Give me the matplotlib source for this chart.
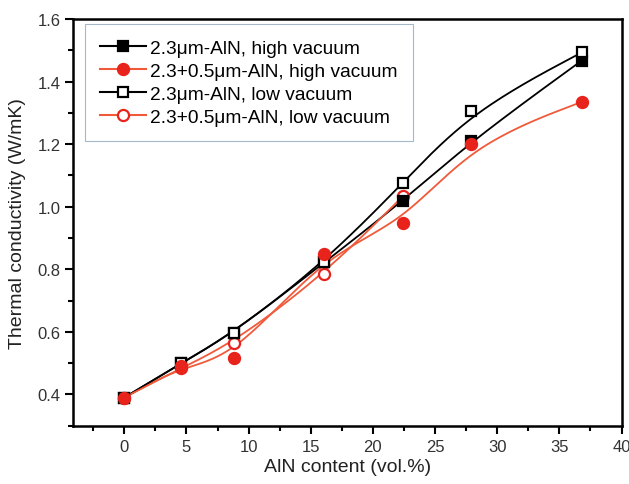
import numpy as np
import matplotlib
matplotlib.use('Agg')
import matplotlib.pyplot as plt
from matplotlib.lines import Line2D
from matplotlib.ticker import MultipleLocator

plt.rcParams['font.family'] = ['Liberation Sans', 'DejaVu Sans']

# data
x = [0, 4.6, 8.8, 16.1, 22.45, 27.9, 36.8]
k_23_high = [0.39, 0.50, 0.597, 0.822, 1.019, 1.21, 1.467]
k_2305_high = [0.39, 0.49, 0.517, 0.848, 0.947, 1.20, 1.335]
k_23_low = [0.39, 0.50, 0.597, 0.822, 1.077, 1.305, 1.493]
x_low2 = [0, 4.6, 8.8, 16.1, 22.45]
k_2305_low = [0.39, 0.485, 0.565, 0.784, 1.035]

labels = ['2.3\u03bcm-AlN, high vacuum', '2.3+0.5\u03bcm-AlN, high vacuum',
          '2.3\u03bcm-AlN, low vacuum', '2.3+0.5\u03bcm-AlN, low vacuum']

RED = '#e8231c'
RED_LINE = '#f05a3a'


def bspline(xs, ys, n=60):
    # clamped uniform cubic B-spline (Origin style "B-Spline" connect)
    P = np.column_stack([xs, ys]).astype(float)
    P = np.vstack([P[0], P[0], P, P[-1], P[-1]])
    t = np.linspace(0, 1, n)[:, None]
    b0 = (1 - t) ** 3 / 6
    b1 = (3 * t ** 3 - 6 * t ** 2 + 4) / 6
    b2 = (-3 * t ** 3 + 3 * t ** 2 + 3 * t + 1) / 6
    b3 = t ** 3 / 6
    segs = []
    for i in range(len(P) - 3):
        segs.append(b0 * P[i] + b1 * P[i + 1] + b2 * P[i + 2] + b3 * P[i + 3])
    c = np.vstack(segs)
    return c[:, 0], c[:, 1]


fig = plt.figure(figsize=(6.29, 4.85), dpi=100)
ax = fig.add_axes([0.1166, 0.1202, 0.8715, 0.8386])

series = [
    (x, k_23_high, 'black', 's', 'black', 3),
    (x, k_2305_high, RED_LINE, 'o', RED, 5),
    (x, k_23_low, 'black', 's', 'white', 4),
    (x_low2, k_2305_low, RED_LINE, 'o', 'white', 2),
]

handles = []
for (xs, ys, lc, m, fc, z), lab in zip(series, labels):
    sx, sy = bspline(xs, ys)
    ax.plot(sx, sy, color=lc, lw=1.3, zorder=1)
    ec = 'black' if lc == 'black' else RED
    ms = 7 if m == 's' else 8
    ax.plot(xs, ys, ls='none', marker=m, ms=ms, mfc=fc, mec=ec, mew=1.6, zorder=z)
    handles.append(Line2D([], [], color=lc, lw=1.5, marker=m, ms=ms, mfc=fc, mec=ec, mew=1.6))

leg = ax.legend(handles, labels, loc='upper left', bbox_to_anchor=(0.021, 0.988),
                fontsize=13.8, frameon=True, fancybox=False, handlelength=2.4,
                handletextpad=0.2, labelspacing=0.3, borderpad=0.8, borderaxespad=0)
leg.get_frame().set_edgecolor('#8ea6bd')
leg.get_frame().set_linewidth(0.8)

ax.set_xlim(-4.1, 40)
ax.set_ylim(0.3, 1.6)
ax.xaxis.set_major_locator(MultipleLocator(5))
ax.xaxis.set_minor_locator(MultipleLocator(2.5))
ax.yaxis.set_major_locator(MultipleLocator(0.2))
ax.yaxis.set_minor_locator(MultipleLocator(0.1))
ax.set_xticks([0, 5, 10, 15, 20, 25, 30, 35, 40])
ax.set_yticks([0.4, 0.6, 0.8, 1.0, 1.2, 1.4, 1.6])
ax.set_yticklabels(['0.4', '0.6', '0.8', '1.0', '1.2', '1.4', '1.6'])

ax.tick_params(which='both', direction='out', top=False, right=False,
               width=1.5, labelsize=12, labelcolor='#333333')
ax.tick_params(which='major', length=5.8)
ax.tick_params(which='minor', length=3.6)
for s in ax.spines.values():
    s.set_linewidth(1.8)

ax.set_xlabel('AlN content (vol.%)', fontsize=14, color='#222222', labelpad=3)
ax.set_ylabel('Thermal conductivity (W/mK)', fontsize=14, color='#222222', labelpad=8)

fig.savefig('out.png', dpi=100)
